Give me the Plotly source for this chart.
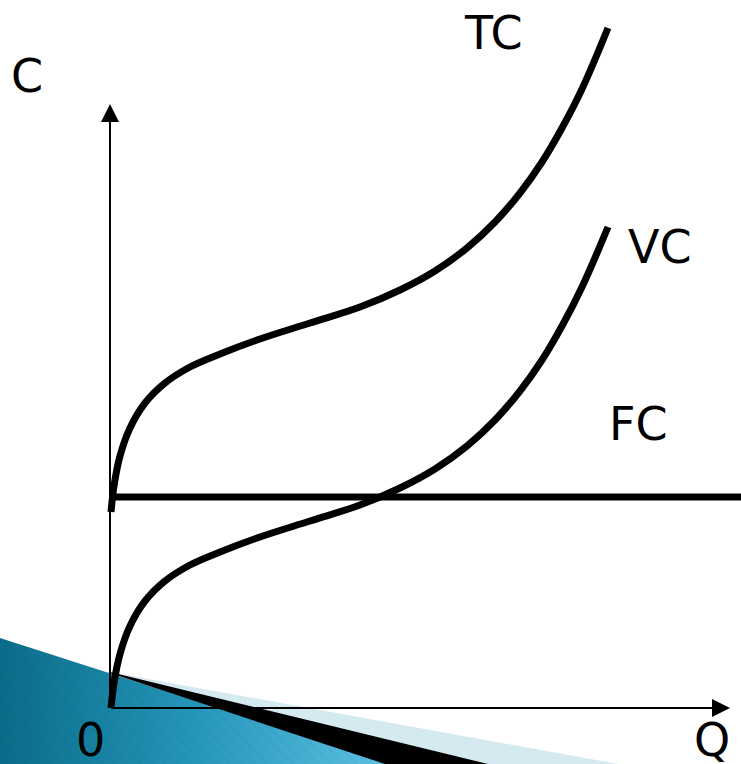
import plotly.graph_objects as go

# ---- data (Q, C) ----
q_pts = [1, 4, 10, 20, 35, 55, 80, 110, 150, 200, 250, 290, 325, 357, 385, 410, 432, 452, 472, 498]
tc_c = [196, 222, 252, 280, 305, 325, 341, 354, 369, 385, 401, 418, 437, 460, 486, 515, 546, 580, 619, 680]
vc_c = [0, 25, 54, 82, 107, 127, 143, 156, 171, 187, 203, 220, 239, 262, 288, 317, 348, 382, 421, 481]

fc_q = [0, 631]
fc_c = [211, 211]

# decorative slide wedges (bottom-left)
light_x = [0, 508, -110, -110]
light_y = [36, -56, -56, 36]
blue_x = [-110, 282, -110]
blue_y = [70, -56, -56]
black_x = [0, 378, 275, 0]
black_y = [36, -56, -56, 35]

labels = ["C", "TC", "VC", "FC", "0", "Q"]
label_q = [-83, 383, 550, 528, -20, 602]
label_c = [632, 675, 461, 284, -32, -32]

FONT = "DejaVu Sans"

fig = go.Figure()

fig.add_trace(go.Scatter(x=light_x, y=light_y, fill="toself", mode="lines",
                         line=dict(width=0), fillcolor="#d5e9f1", hoverinfo="skip"))
fig.add_trace(go.Scatter(x=blue_x, y=blue_y, fill="toself", mode="lines",
                         line=dict(width=0),
                         fillgradient=dict(type="horizontal",
                                           colorscale=[[0, "#0a6c88"], [0.5, "#2596ba"], [1, "#5ec2e4"]]),
                         hoverinfo="skip"))
fig.add_trace(go.Scatter(x=blue_x, y=blue_y, fill="toself", mode="lines",
                         line=dict(width=0), fillcolor="rgba(0,0,0,0)",
                         fillpattern=dict(shape="\\", fgcolor="rgba(0,40,60,0.12)",
                                          bgcolor="rgba(0,0,0,0)", size=9, solidity=0.12),
                         hoverinfo="skip"))
fig.add_trace(go.Scatter(x=black_x, y=black_y, fill="toself", mode="lines",
                         line=dict(width=0), fillcolor="#000000", hoverinfo="skip"))

for qx, cy in [(fc_q, fc_c), (q_pts, tc_c), (q_pts, vc_c)]:
    fig.add_trace(go.Scatter(x=qx, y=cy, mode="lines",
                             line=dict(color="black", width=7, shape="spline", smoothing=1.0),
                             hoverinfo="skip"))

annotations = []
# axes with arrowheads
annotations.append(dict(x=0, y=604, ax=0, ay=0, xref="x", yref="y", axref="x", ayref="y",
                        showarrow=True, arrowhead=2, arrowsize=1.8, arrowwidth=2,
                        arrowcolor="black", text=""))
annotations.append(dict(x=620, y=0, ax=0, ay=0, xref="x", yref="y", axref="x", ayref="y",
                        showarrow=True, arrowhead=2, arrowsize=1.8, arrowwidth=2,
                        arrowcolor="black", text=""))
for t, qx, cy in zip(labels, label_q, label_c):
    annotations.append(dict(x=qx, y=cy, xref="x", yref="y", text=t, showarrow=False,
                            font=dict(family=FONT, size=46, color="black"),
                            xanchor="center", yanchor="middle"))

fig.update_layout(
    width=741, height=764, autosize=False,
    margin=dict(l=0, r=0, t=0, b=0, pad=0),
    paper_bgcolor="white", plot_bgcolor="white",
    showlegend=False,
    xaxis=dict(range=[-110, 631], visible=False, fixedrange=True),
    yaxis=dict(range=[-56, 708], visible=False, fixedrange=True),
    annotations=annotations,
)

fig.write_html("out.html", config={"displayModeBar": False},
               post_script="document.body.style.margin='0';document.documentElement.style.overflow='hidden';")
